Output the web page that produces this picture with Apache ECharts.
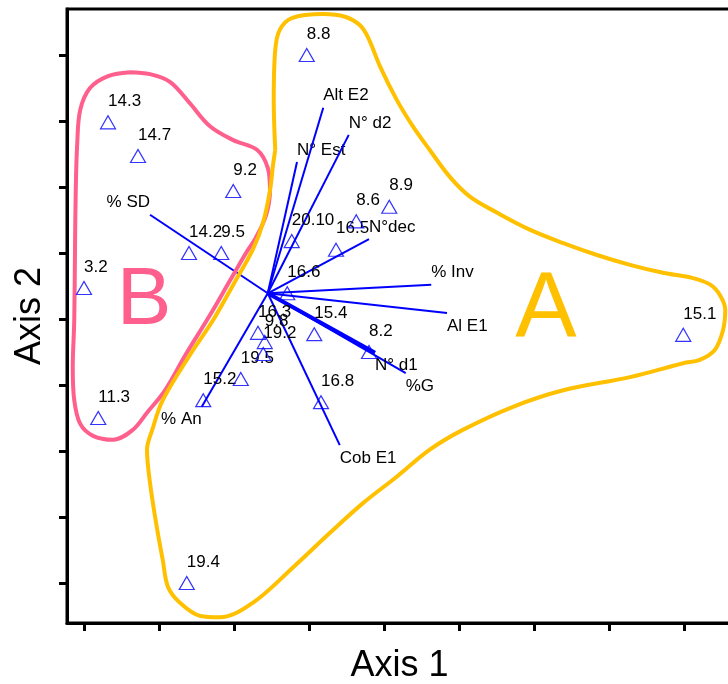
<!DOCTYPE html>
<html>
<head>
<meta charset="utf-8">
<script src="https://cdn.jsdelivr.net/npm/echarts@6/dist/echarts.min.js"></script>
<style>
html, body { margin: 0; padding: 0; background: #fff; }
#chart { width: 728px; height: 684px; }
</style>
</head>
<body>
<div id="chart"></div>
<script>
// sample scores (axis units = one tick)
var pointLabels = ['8.8', '14.3', '14.7', '9.2', '14.2', '9.5', '3.2', '20.10', '16.5', '8.6', '8.9', '16.6',
	'15.4', '8.2', '16.3', '9.8', '19.2', '19.5', '15.2', '16.8', '11.3', '19.4', '15.1'];
var pointX = [2.97, 0.32, 0.72, 1.99, 1.40, 1.83, 0.00, 2.77, 3.36, 3.63, 4.07, 2.71,
	3.07, 3.80, 2.32, 2.41, 2.39, 2.09, 1.59, 3.16, 0.19, 1.37, 7.99];
var pointY = [8.00, 6.98, 6.47, 5.94, 5.00, 5.00, 4.47, 5.18, 5.05, 5.48, 5.70, 4.39,
	3.77, 3.50, 3.79, 3.65, 3.47, 3.09, 2.77, 2.74, 2.50, 0.00, 3.76];

// variable vectors, all starting at the origin
var vectorOrigin = [2.45, 4.39];
var vectorNames = ['% SD', 'N° Est', 'Alt E2', 'N° d2', 'N°dec', '% Inv', 'Al E1', '%G', 'N° d1', 'Cob E1', '% An'];
var vectorX = [0.88, 2.84, 3.19, 3.53, 3.80, 4.63, 4.84, 4.29, 3.88, 3.41, 1.57];
var vectorY = [5.58, 6.38, 7.20, 6.79, 5.21, 4.52, 4.09, 3.18, 3.49, 2.09, 2.67];

// group outlines
var groupBX = [0.61, 0.88, 1.15, 1.41, 1.68, 1.99, 2.31, 2.45, 2.48, 2.43, 2.29, 2.17, 1.95, 1.68, 1.35, 1.08,
	0.84, 0.65, 0.39, 0.12, -0.05, -0.13, -0.15, -0.13, -0.12, -0.11, -0.09, -0.05, 0.08, 0.32, 0.61];
var groupBY = [7.74, 7.71, 7.59, 7.27, 6.92, 6.71, 6.56, 6.29, 5.95, 5.58, 5.23, 5.02, 4.59, 4.06, 3.45, 2.92,
	2.58, 2.32, 2.17, 2.23, 2.41, 2.77, 3.27, 3.98, 5.05, 5.95, 6.67, 7.17, 7.50, 7.68, 7.74];
var groupAX = [2.55, 2.53, 2.55, 2.61, 2.77, 3.19, 3.48, 3.68, 3.79, 3.95, 4.17, 4.39, 4.61, 4.88, 5.15, 5.51,
	5.95, 6.39, 6.84, 7.28, 7.72, 8.12, 8.35, 8.48, 8.55, 8.52, 8.41, 8.21, 7.99, 7.28, 6.39, 5.72,
	5.05, 4.61, 4.17, 3.72, 3.28, 2.79, 2.25, 1.81, 1.55, 1.28, 1.12, 1.05, 0.97, 0.88, 0.84, 0.91,
	1.05, 1.41, 1.72, 1.99, 2.25, 2.39, 2.48, 2.52, 2.55];
var groupAY = [6.56, 7.32, 8.08, 8.38, 8.56, 8.62, 8.58, 8.45, 8.26, 7.82, 7.32, 6.91, 6.56, 6.15, 5.85, 5.61,
	5.35, 5.15, 4.97, 4.82, 4.70, 4.62, 4.52, 4.36, 4.14, 3.83, 3.53, 3.38, 3.33, 3.12, 2.92, 2.67,
	2.32, 2.02, 1.61, 1.21, 0.76, 0.24, -0.30, -0.52, -0.50, -0.30, -0.06, 0.35, 0.85, 1.52, 2.02, 2.32,
	2.77, 3.45, 3.98, 4.52, 5.05, 5.47, 5.95, 6.33, 6.56];

var groupLetters = ['B', 'A'];
var letterX = [0.80, 6.16];
var letterY = [4.26, 4.11];

var tickValues = [0, 1, 2, 3, 4, 5, 6, 7, 8];

var FONT = "'Liberation Sans', Arial, sans-serif";
var BLUE = '#0000ff';
var letterColors = ['#ff5f8c', '#ffc000'];
var letterSizes = [82, 92];

function zip(xs, ys) {
	var out = [];
	for (var i = 0; i < xs.length; i++) out.push([xs[i], ys[i]]);
	return out;
}

var points = [];
for (var i = 0; i < pointLabels.length; i++) {
	points.push([pointX[i], pointY[i], pointLabels[i]]);
}
var vectors = [];
for (var j = 0; j < vectorNames.length; j++) {
	vectors.push([vectorX[j], vectorY[j], vectorNames[j]]);
}
var letters = [];
for (var k = 0; k < groupLetters.length; k++) {
	letters.push([letterX[k], letterY[k], groupLetters[k]]);
}

function renderVector(params, api) {
	var s = api.coord(vectorOrigin);
	var e = api.coord([api.value(0), api.value(1)]);
	var name = vectorNames[params.dataIndex];
	var left = e[0] >= s[0];
	var up = e[1] <= s[1];
	return {
		type: 'group',
		children: [{
			type: 'line',
			shape: { x1: s[0], y1: s[1], x2: e[0], y2: e[1] },
			style: { stroke: BLUE, lineWidth: name == 'N° d1' ? 4 : 2 }
		}, {
			type: 'text',
			x: e[0],
			y: e[1] + (up ? -12 : 13),
			style: {
				text: name,
				fill: '#000',
				font: '17px ' + FONT,
				align: left ? 'left' : 'right',
				verticalAlign: 'middle'
			}
		}]
	};
}

function renderLetter(params, api) {
	var p = api.coord([api.value(0), api.value(1)]);
	var idx = params.dataIndex;
	return {
		type: 'text',
		x: p[0],
		y: p[1],
		style: {
			text: groupLetters[idx],
			fill: letterColors[idx],
			font: letterSizes[idx] + 'px ' + FONT,
			align: 'center',
			verticalAlign: 'middle'
		}
	};
}

// sample labels drawn as plain text, upper right of each triangle
function renderPointLabel(params, api) {
	var p = api.coord([api.value(0), api.value(1)]);
	return {
		type: 'text',
		x: p[0],
		y: p[1] - 21,
		style: {
			text: pointLabels[params.dataIndex],
			fill: '#000',
			font: '17px ' + FONT,
			align: 'left',
			verticalAlign: 'middle'
		}
	};
}

var option = {
	animation: false,
	backgroundColor: '#fff',
	grid: {
		left: 67,
		top: 9,
		right: -4,
		bottom: 61,
		outerBoundsMode: 'none',
		show: true,
		borderColor: '#000',
		borderWidth: 3
	},
	xAxis: {
		type: 'value',
		min: -0.2267,
		max: 8.64,
		name: 'Axis 1',
		nameLocation: 'middle',
		nameGap: 25,
		nameTextStyle: { fontSize: 36, color: '#000', fontFamily: FONT },
		axisLine: { show: true, onZero: false, lineStyle: { color: '#000', width: 3 } },
		axisTick: { show: true, customValues: tickValues, length: 8, lineStyle: { color: '#000', width: 3 } },
		axisLabel: { show: false },
		splitLine: { show: false }
	},
	yAxis: {
		type: 'value',
		min: -0.606,
		max: 8.697,
		name: 'Axis 2',
		nameLocation: 'middle',
		nameGap: 19,
		nameTextStyle: { fontSize: 36, color: '#000', fontFamily: FONT },
		axisLine: { show: true, onZero: false, lineStyle: { color: '#000', width: 3 } },
		axisTick: { show: true, customValues: tickValues, length: 8, lineStyle: { color: '#000', width: 3 } },
		axisLabel: { show: false },
		splitLine: { show: false }
	},
	series: [{
		type: 'custom',
		name: 'vectors',
		renderItem: renderVector,
		data: vectors,
		z: 2
	}, {
		type: 'line',
		name: 'B',
		data: zip(groupBX, groupBY),
		smooth: 0.35,
		symbol: 'none',
		lineStyle: { color: letterColors[0], width: 4 },
		z: 3
	}, {
		type: 'line',
		name: 'A',
		data: zip(groupAX, groupAY),
		smooth: 0.35,
		symbol: 'none',
		lineStyle: { color: letterColors[1], width: 4 },
		z: 3
	}, {
		type: 'custom',
		name: 'letters',
		renderItem: renderLetter,
		data: letters,
		z: 3
	}, {
		type: 'scatter',
		name: 'samples',
		data: points,
		symbol: 'triangle',
		symbolSize: [15, 13],
		itemStyle: { color: 'rgba(0,0,0,0)', borderColor: BLUE, borderWidth: 1.2 },
		z: 4
	}, {
		type: 'custom',
		name: 'sampleLabels',
		renderItem: renderPointLabel,
		data: points,
		z: 4
	}]
};

var myChart = echarts.init(document.getElementById('chart'));
myChart.setOption(option, true);
</script>
</body>
</html>
